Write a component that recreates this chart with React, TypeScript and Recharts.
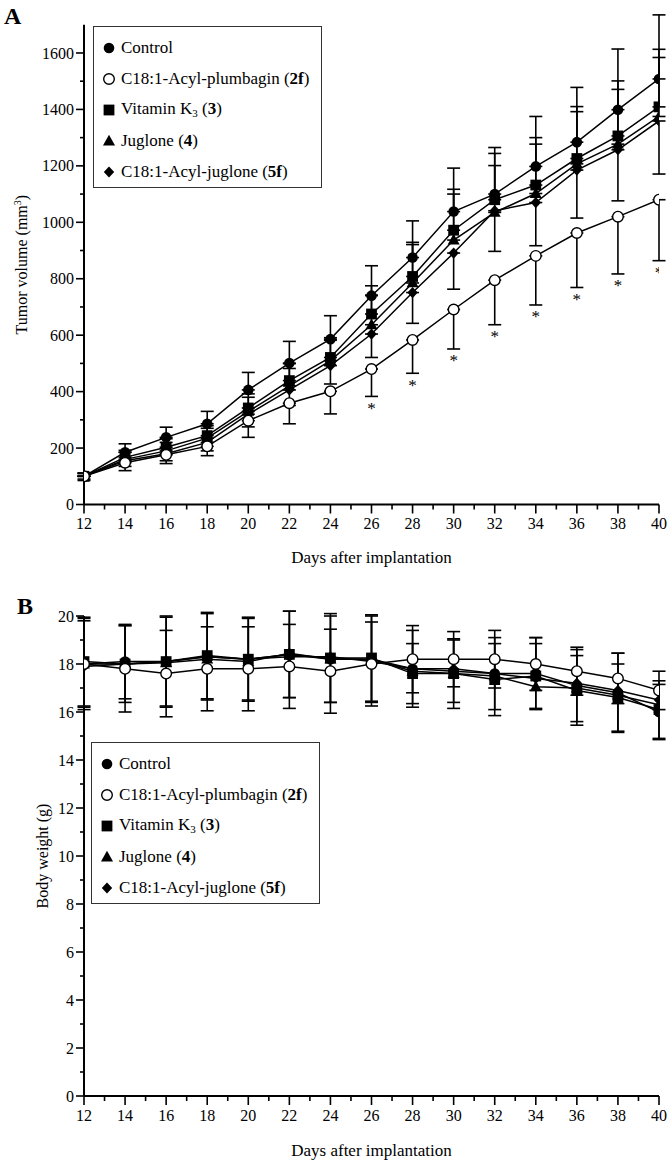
import React from 'react';
import { LineChart, Line, XAxis, YAxis, ErrorBar, Legend } from 'recharts';

const SERIF = '"Liberation Serif", "Times New Roman", serif';

// ---------- categories ----------
const days = [12, 14, 16, 18, 20, 22, 24, 26, 28, 30, 32, 34, 36, 38, 40];
const dayTicks = [12, 13, 14, 15, 16, 17, 18, 19, 20, 21, 22, 23, 24, 25, 26, 27, 28, 29, 30, 31, 32, 33, 34, 35, 36, 37, 38, 39, 40];
const tumorTicks = [0, 100, 200, 300, 400, 500, 600, 700, 800, 900, 1000, 1100, 1200, 1300, 1400, 1500, 1600];
const weightTicks = [0, 1, 2, 3, 4, 5, 6, 7, 8, 9, 10, 11, 12, 13, 14, 15, 16, 17, 18, 19, 20];

// ---------- legend labels ----------
const seriesNames = ['Control', 'C18:1-Acyl-plumbagin', 'Vitamin K', 'Juglone', 'C18:1-Acyl-juglone'];
const seriesCodes = ['', '2f', '3', '4', '5f'];
const seriesShapes = ['circle', 'open', 'square', 'triangle', 'diamond'];

// ---------- Panel A: tumor volume (mm3) ----------
const tumorControl = [100, 185, 238, 286, 406, 501, 586, 740, 875, 1038, 1100, 1198, 1284, 1399, 1508];
const tumorPlumbagin = [100, 148, 176, 206, 297, 359, 401, 480, 583, 691, 795, 881, 962, 1020, 1080];
const tumorVitK3 = [100, 167, 203, 244, 342, 439, 521, 675, 808, 972, 1080, 1132, 1226, 1306, 1409];
const tumorJuglone = [100, 160, 190, 235, 330, 420, 510, 637, 785, 937, 1035, 1102, 1207, 1277, 1375];
const tumorAcylJuglone = [100, 155, 180, 220, 320, 406, 492, 604, 751, 891, 1041, 1070, 1185, 1257, 1359];

const tumorControlErrUp = [12, 30, 36, 44, 62, 77, 83, 106, 130, 154, 165, 177, 194, 215, 227];
const tumorVitK3ErrUp = [10, 25, 30, 35, 50, 60, 70, 100, 121, 145, 164, 168, 184, 195, 204];
const tumorJugloneErrUp = [10, 25, 30, 35, 50, 62, 72, 105, 136, 163, 166, 175, 185, 194, 209];
const tumorAcylJugloneErrDown = [10, 20, 25, 30, 45, 55, 65, 83, 109, 128, 144, 153, 170, 181, 188];
const tumorPlumbaginErrDown = [15, 28, 31, 33, 59, 73, 80, 97, 118, 140, 158, 174, 193, 203, 216];
const tumorSignificant = [false, false, false, false, false, false, false, true, true, true, true, true, true, true, true];

// ---------- Panel B: body weight (g) ----------
const weightControl = [18.0, 18.1, 18.1, 18.3, 18.2, 18.4, 18.2, 18.2, 17.8, 17.7, 17.6, 17.6, 17.1, 16.8, 16.0];
const weightPlumbagin = [18.0, 17.8, 17.6, 17.8, 17.8, 17.9, 17.7, 18.0, 18.2, 18.2, 18.2, 18.0, 17.7, 17.4, 16.9];
const weightVitK3 = [18.1, 18.0, 18.1, 18.35, 18.2, 18.4, 18.25, 18.25, 17.6, 17.6, 17.35, 17.5, 16.9, 16.6, 16.1];
const weightJuglone = [18.0, 18.0, 18.05, 18.2, 18.1, 18.45, 18.2, 18.2, 17.7, 17.6, 17.5, 17.05, 17.0, 16.7, 16.3];
const weightAcylJuglone = [17.9, 18.0, 18.1, 18.3, 18.2, 18.3, 18.3, 18.1, 17.8, 17.8, 17.6, 17.4, 17.2, 16.9, 16.5];

const weightControlErr = [1.9, 1.55, 1.85, 1.8, 1.7, 1.8, 1.8, 1.8, 1.6, 1.3, 1.5, 1.5, 1.5, 1.65, 1.15];
const weightPlumbaginErr = [1.8, 1.8, 1.8, 1.75, 1.75, 1.75, 1.75, 1.75, 1.4, 1.15, 1.2, 1.1, 1.0, 1.05, 0.8];
const weightVitK3Err = [1.85, 1.6, 1.9, 1.8, 1.75, 1.8, 1.85, 1.8, 1.25, 1.45, 1.5, 1.35, 1.45, 1.4, 1.2];

const tumorData = days.map((d, i) => ({
  day: d,
  control: tumorControl[i],
  plumbagin: tumorPlumbagin[i],
  vitK3: tumorVitK3[i],
  juglone: tumorJuglone[i],
  acylJuglone: tumorAcylJuglone[i],
  controlErr: [0, tumorControlErrUp[i]],
  vitK3Err: [0, tumorVitK3ErrUp[i]],
  jugloneErr: [0, tumorJugloneErrUp[i]],
  acylJugloneErr: [tumorAcylJugloneErrDown[i], 0],
  plumbaginErr: [tumorPlumbaginErrDown[i], 0],
  star: tumorSignificant[i] ? tumorPlumbagin[i] - tumorPlumbaginErrDown[i] : null,
}));

const weightData = days.map((d, i) => ({
  day: d,
  control: weightControl[i],
  plumbagin: weightPlumbagin[i],
  vitK3: weightVitK3[i],
  juglone: weightJuglone[i],
  acylJuglone: weightAcylJuglone[i],
  controlErr: weightControlErr[i],
  plumbaginErr: weightPlumbaginErr[i],
  vitK3Err: weightVitK3Err[i],
}));

// ---------- markers ----------
function MarkerShape({ shape, cx, cy }: { shape: string; cx: number; cy: number }) {
  if (cx == null || cy == null || isNaN(cx) || isNaN(cy)) return <g />;
  switch (shape) {
    case 'circle':
      return <circle cx={cx} cy={cy} r={5.3} fill="#000" />;
    case 'open':
      return <circle cx={cx} cy={cy} r={5.3} fill="#fff" stroke="#000" strokeWidth={1.4} />;
    case 'square':
      return <rect x={cx - 5.4} y={cy - 5.4} width={10.8} height={10.8} fill="#000" />;
    case 'triangle':
      return <polygon points={`${cx},${cy - 6.2} ${cx + 6},${cy + 4.4} ${cx - 6},${cy + 4.4}`} fill="#000" />;
    case 'diamond':
      return <polygon points={`${cx},${cy - 5.6} ${cx + 5.2},${cy} ${cx},${cy + 5.6} ${cx - 5.2},${cy}`} fill="#000" />;
    default:
      return <g />;
  }
}

const dotFor = (shape: string) => (p: any) => (
  <g key={`${shape}-${p.index}`}>
    <MarkerShape shape={shape} cx={p.cx} cy={p.cy} />
  </g>
);

const starDot = (p: any) => {
  const ok = p.cx != null && p.cy != null && p.value != null;
  const sx = p.cx;
  const sy = (p.cy ?? 0) + 17.5;
  return (
    <g key={`star-${p.index}`}>
      {ok ? (
        <text
          x={sx}
          y={sy}
          textAnchor="middle"
          fontFamily={SERIF}
          fontSize={17}
          fill="#000"
          transform={`rotate(0.01 ${sx} ${sy})`}
        >
          *
        </text>
      ) : null}
    </g>
  );
};

// ---------- ticks ----------
const X_TS = 8;
const X_TM = 4;
const XTick = (props: any) => {
  const { x, y, payload } = props;
  const v = payload.value;
  const axisY = y - X_TS - X_TM;
  const major = v % 2 === 0;
  return (
    <g>
      <line x1={x} x2={x} y1={axisY} y2={axisY + (major ? 9 : 5)} stroke="#000" strokeWidth={1.6} />
      {major ? (
        <text x={x} y={axisY + 12} dy="0.8em" textAnchor="middle" fontFamily={SERIF} fontSize={16} fill="#000">
          {v}
        </text>
      ) : null}
    </g>
  );
};

const Y_TS = 8;
const Y_TM = 2;
const makeYTick = (majorStep: number) => (props: any) => {
  const { x, y, payload } = props;
  const v = payload.value;
  const axisX = x + Y_TS + Y_TM;
  const major = v % majorStep === 0;
  return (
    <g>
      <line x1={axisX - (major ? 8 : 4)} x2={axisX} y1={y} y2={y} stroke="#000" strokeWidth={1.6} />
      {major ? (
        <text x={axisX - 10} y={y} dy="0.35em" textAnchor="end" fontFamily={SERIF} fontSize={16} fill="#000">
          {v}
        </text>
      ) : null}
    </g>
  );
};

const yTitle = (cxPos: number, node: React.ReactNode) => (props: any) => {
  const vb = props.viewBox;
  const cy = vb.y + vb.height / 2;
  return (
    <text
      x={cxPos}
      y={cy}
      transform={`rotate(-90 ${cxPos} ${cy})`}
      textAnchor="middle"
      dy="0.35em"
      fontFamily={SERIF}
      fontSize={16}
      fill="#000"
    >
      {node}
    </text>
  );
};

const xTitle = (offset: number) => (props: any) => {
  const vb = props.viewBox;
  const cx = vb.x + vb.width / 2;
  return (
    <text x={cx} y={vb.y + offset} dy="0.35em" textAnchor="middle" fontFamily={SERIF} fontSize={17} fill="#000">
      Days after implantation
    </text>
  );
};

// ---------- legend ----------
const LegendLabel = ({ i }: { i: number }) => {
  const name = seriesNames[i];
  const code = seriesCodes[i];
  if (!code) return <span>{name}</span>;
  return (
    <span>
      {name}
      {i === 2 ? <sub style={{ fontSize: 11, verticalAlign: '-3px' }}>3</sub> : null}
      {' ('}
      <b>{code}</b>
      {')'}
    </span>
  );
};

const LegendBox = () => (
  <div
    style={{
      width: 229,
      height: 162,
      boxSizing: 'border-box',
      border: '1.3px solid #333',
      background: '#fff',
      fontFamily: SERIF,
      fontSize: 17,
      color: '#000',
      paddingTop: 5,
      lineHeight: 1,
    }}
  >
    {seriesNames.map((_, i) => (
      <div key={i} style={{ height: 31, display: 'flex', alignItems: 'center', whiteSpace: 'nowrap' }}>
        <svg width={14} height={14} style={{ marginLeft: 8, marginRight: 5, flex: 'none' }}>
          <MarkerShape shape={seriesShapes[i]} cx={7} cy={7} />
        </svg>
        <LegendLabel i={i} />
      </div>
    ))}
  </div>
);

const lineCommon = {
  type: 'linear' as const,
  stroke: '#000',
  strokeWidth: 1.5,
  isAnimationActive: false,
  activeDot: false as const,
  legendType: 'none' as const,
};

const axisLine = { stroke: '#000', strokeWidth: 2 };

const panelLetter = { position: 'absolute' as const, fontFamily: SERIF, fontWeight: 'bold' as const, fontSize: 24, lineHeight: 1 };

export default function App() {
  return (
    <div style={{ position: 'absolute', left: 0, top: 0, width: 672, height: 1163, background: '#fff', overflow: 'hidden' }}>
      <div style={{ ...panelLetter, left: 4, top: 4 }}>A</div>
      <div style={{ ...panelLetter, left: 17, top: 594 }}>B</div>

      <div style={{ position: 'absolute', left: 0, top: 0 }}>
        <LineChart width={672} height={580} data={tumorData} margin={{ top: 24.75, right: 13, bottom: 45.5, left: 24 }}>
          <XAxis
            dataKey="day"
            type="number"
            domain={[12, 40]}
            ticks={dayTicks}
            interval={0}
            allowDataOverflow
            height={30}
            tickSize={X_TS}
            tickMargin={X_TM}
            tickLine={false}
            axisLine={axisLine}
            tick={XTick}
            label={{ content: xTitle(52.5) }}
          />
          <YAxis
            type="number"
            domain={[0, 1700]}
            ticks={tumorTicks}
            interval={0}
            allowDataOverflow
            width={60}
            tickSize={Y_TS}
            tickMargin={Y_TM}
            tickLine={false}
            axisLine={axisLine}
            tick={makeYTick(200)}
            label={{
              content: yTitle(
                21,
                <>
                  Tumor volume (mm<tspan dy="-6" fontSize="10">3</tspan>
                  <tspan dy="6">)</tspan>
                </>
              ),
            }}
          />
          <Legend
            layout="horizontal"
            verticalAlign="middle"
            align="center"
            content={() => <LegendBox />}
            wrapperStyle={{ left: 93, top: 26, width: 229, height: 162 }}
          />
          <Line {...lineCommon} dataKey="control" dot={dotFor('circle')}>
            <ErrorBar dataKey="controlErr" direction="y" width={6.5} strokeWidth={1.6} stroke="#000" />
          </Line>
          <Line {...lineCommon} dataKey="vitK3" dot={dotFor('square')}>
            <ErrorBar dataKey="vitK3Err" direction="y" width={6.5} strokeWidth={1.6} stroke="#000" />
          </Line>
          <Line {...lineCommon} dataKey="juglone" dot={dotFor('triangle')}>
            <ErrorBar dataKey="jugloneErr" direction="y" width={6.5} strokeWidth={1.6} stroke="#000" />
          </Line>
          <Line {...lineCommon} dataKey="acylJuglone" dot={dotFor('diamond')}>
            <ErrorBar dataKey="acylJugloneErr" direction="y" width={6.5} strokeWidth={1.6} stroke="#000" />
          </Line>
          <Line {...lineCommon} dataKey="plumbagin" dot={dotFor('open')}>
            <ErrorBar dataKey="plumbaginErr" direction="y" width={6.5} strokeWidth={1.6} stroke="#000" />
          </Line>
          <Line {...lineCommon} dataKey="star" stroke="none" dot={starDot} />
        </LineChart>
      </div>

      <div style={{ position: 'absolute', left: 0, top: 580 }}>
        <LineChart width={672} height={583} data={weightData} margin={{ top: 36, right: 13, bottom: 37, left: 24 }}>
          <XAxis
            dataKey="day"
            type="number"
            domain={[12, 40]}
            ticks={dayTicks}
            interval={0}
            allowDataOverflow
            height={30}
            tickSize={X_TS}
            tickMargin={X_TM}
            tickLine={false}
            axisLine={axisLine}
            tick={XTick}
            label={{ content: xTitle(54) }}
          />
          <YAxis
            type="number"
            domain={[0, 20]}
            ticks={weightTicks}
            interval={0}
            allowDataOverflow
            width={60}
            tickSize={Y_TS}
            tickMargin={Y_TM}
            tickLine={false}
            axisLine={axisLine}
            tick={makeYTick(2)}
            label={{ content: yTitle(42, <>Body weight (g)</>) }}
          />
          <Legend
            layout="horizontal"
            verticalAlign="middle"
            align="center"
            content={() => <LegendBox />}
            wrapperStyle={{ left: 91, top: 162, width: 229, height: 162 }}
          />
          <Line {...lineCommon} dataKey="control" dot={dotFor('circle')}>
            <ErrorBar dataKey="controlErr" direction="y" width={6.5} strokeWidth={1.6} stroke="#000" />
          </Line>
          <Line {...lineCommon} dataKey="vitK3" dot={dotFor('square')}>
            <ErrorBar dataKey="vitK3Err" direction="y" width={6.5} strokeWidth={1.6} stroke="#000" />
          </Line>
          <Line {...lineCommon} dataKey="juglone" dot={dotFor('triangle')} />
          <Line {...lineCommon} dataKey="acylJuglone" dot={dotFor('diamond')} />
          <Line {...lineCommon} dataKey="plumbagin" dot={dotFor('open')}>
            <ErrorBar dataKey="plumbaginErr" direction="y" width={6.5} strokeWidth={1.6} stroke="#000" />
          </Line>
        </LineChart>
      </div>
    </div>
  );
}
